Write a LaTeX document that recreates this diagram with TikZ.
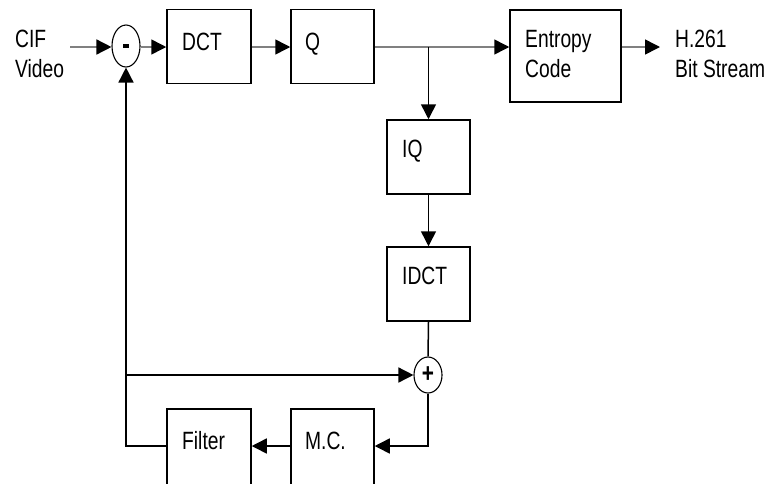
\documentclass[tikz,border=0pt]{standalone}
\usepackage{fontspec}
\setmainfont[FakeStretch=0.77]{Liberation Sans}
\usetikzlibrary{arrows.meta,shapes.geometric}
\begin{document}
\begin{tikzpicture}[x=1pt,y=-1pt,
  box/.style={draw,line width=1.5pt,rectangle,inner sep=0pt,minimum width=84pt,minimum height=74pt},
  sumnode/.style={draw,line width=1.1pt,ellipse,inner sep=0pt,minimum width=28pt,font=\fontsize{27}{27}\selectfont\bfseries},
  txt/.style={anchor=base west,inner sep=0pt,font=\fontsize{25}{30}\selectfont},
  tip/.style={-{Triangle[length=15pt,width=15pt,color=black]}},
  bline/.style={line width=1.5pt,black},
  gline/.style={line width=1.5pt,black!50}]
\useasboundingbox (0,0) rectangle (767,483);
\clip (0,0) rectangle (767,483);
% blocks
\node[sumnode,minimum height=42pt] (minus) at (126,46) {\rule{6pt}{4.5pt}};
\node[box] (dct) at (209,46.5) {};
\node[box,minimum width=83pt] (q) at (332.5,46.5) {};
\node[box,minimum width=111pt,minimum height=92pt] (ent) at (565.5,56) {};
\node[box,minimum width=83pt] (iq) at (428.5,157) {};
\node[box,minimum width=83pt] (idct) at (428.5,284) {};
\node[sumnode,minimum height=36pt] (plus) at (428,375) {+};
\node[box,minimum height=86pt] (filt) at (209,452) {};
\node[box,minimum width=83pt,minimum height=86pt] (mc) at (332.5,452) {};
% texts
\node[txt] (t1) at (15,47) {CIF};
\node[txt] (t2) at (15,77) {Video};
\node[txt] (t3) at (182,50) {DCT};
\node[txt] (t4) at (305,50) {Q};
\node[txt] (t5) at (525,47) {Entropy};
\node[txt] (t6) at (525,77) {Code};
\node[txt] (t7) at (675,47) {H.261};
\node[txt] (t8) at (675,77) {Bit Stream};
\node[txt] (t9) at (402,157) {IQ};
\node[txt] (t10) at (402,284) {IDCT};
\node[txt] (t11) at (182,449) {Filter};
\node[txt] (t12) at (305,449) {M.C.};
% helper coordinates
\coordinate (in) at (70,47);
\coordinate (br) at (428.5,47);
\coordinate (outc) at (660,47);
\coordinate (tap) at (126,375);
\coordinate (lowy) at (0,446);
% connectors
\draw[gline,tip] (in) -- (minus.west |- in);
\draw[gline,tip] (minus.east |- in) -- (dct.west |- in);
\draw[gline,tip] (dct.east |- in) -- (q.west |- in);
\draw[gline,tip] (q.east |- in) -- (ent.west |- in);
\draw[bline,tip] (br) -- (iq.north);
\draw[gline,tip] (ent.east |- in) -- (outc);
\draw[bline,tip] (iq.south) -- (idct.north);
\draw[bline] (idct.south) -- (plus.north);
\draw[bline,tip] (plus.south) |- (mc.east |- lowy);
\draw[bline,tip] (mc.west |- lowy) -- (filt.east |- lowy);
\draw[bline,tip] (filt.west |- lowy) -| (minus.south);
\draw[bline,tip] (tap) -- (plus.west);
\end{tikzpicture}
\end{document}
